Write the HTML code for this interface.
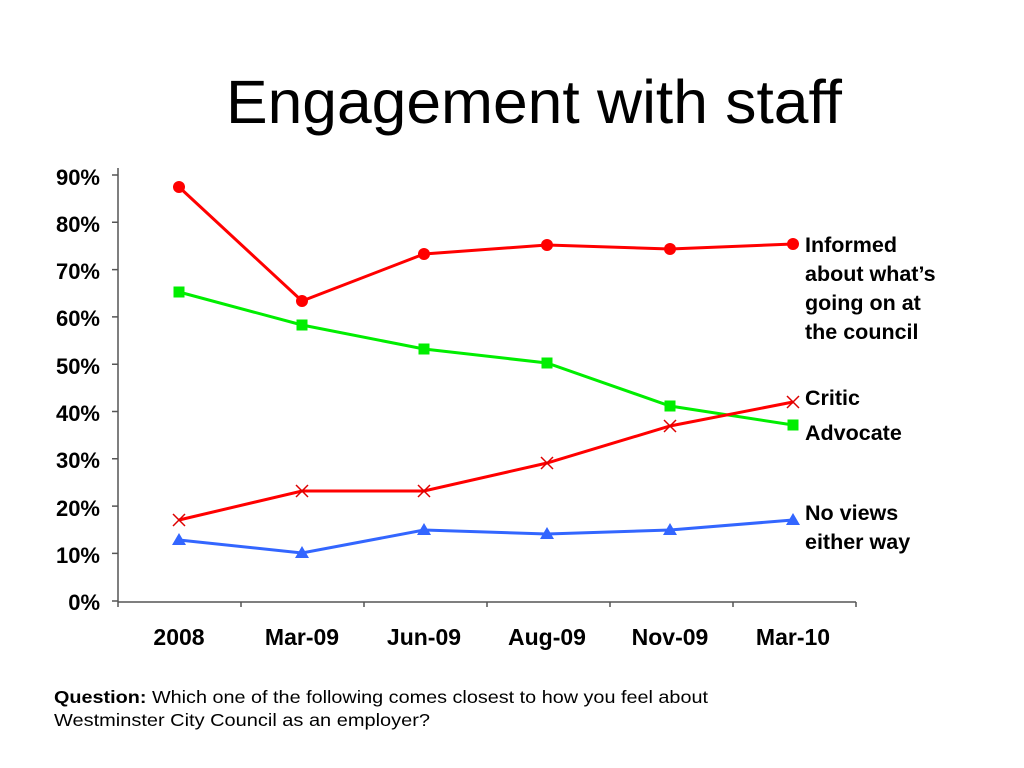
<!DOCTYPE html>
<html><head><style>
body{margin:0;background:#fff;}
svg{display:block;font-family:"Liberation Sans",Arial,sans-serif;}
</style></head><body>
<svg width="1024" height="768" viewBox="0 0 1024 768">
<text x="226" y="123" font-size="61" textLength="616" lengthAdjust="spacingAndGlyphs" fill="#000">Engagement with staff</text>
<g stroke="#555" stroke-width="1.5" fill="none">
<line x1="118" y1="168" x2="118" y2="602"/>
<line x1="118" y1="602" x2="856" y2="602"/>
<path d="M112 175H118M112 222.3H118M112 269.6H118M112 316.9H118M112 364.2H118M112 411.5H118M112 458.8H118M112 506.1H118M112 553.4H118M112 601H118"/>
<path d="M118 602V607M241 602V607M364 602V607M487 602V607M610 602V607M733 602V607M856 602V607"/>
</g>
<g font-size="22" font-weight="bold" text-anchor="end" fill="#000">
<text x="100" y="185">90%</text><text x="100" y="232">80%</text><text x="100" y="279">70%</text>
<text x="100" y="326">60%</text><text x="100" y="374">50%</text><text x="100" y="421">40%</text>
<text x="100" y="468">30%</text><text x="100" y="516">20%</text><text x="100" y="563">10%</text>
<text x="100" y="610">0%</text>
</g>
<g font-size="23" font-weight="bold" text-anchor="middle" fill="#000">
<text x="179" y="645">2008</text><text x="302" y="645">Mar-09</text><text x="424" y="645">Jun-09</text>
<text x="547" y="645">Aug-09</text><text x="670" y="645">Nov-09</text><text x="793" y="645">Mar-10</text>
</g>
<polyline points="179,187 302,301 424,254 547,245 670,249 793,244" fill="none" stroke="#f00" stroke-width="3"/>
<g fill="#f00"><circle cx="179" cy="187" r="6"/><circle cx="302" cy="301" r="6"/><circle cx="424" cy="254" r="6"/><circle cx="547" cy="245" r="6"/><circle cx="670" cy="249" r="6"/><circle cx="793" cy="244" r="6"/></g>
<polyline points="179,292 302,325 424,349 547,363 670,406 793,425" fill="none" stroke="#0e0" stroke-width="3"/>
<g fill="#0e0"><rect x="173.5" y="286.5" width="11" height="11"/><rect x="296.5" y="319.5" width="11" height="11"/><rect x="418.5" y="343.5" width="11" height="11"/><rect x="541.5" y="357.5" width="11" height="11"/><rect x="664.5" y="400.5" width="11" height="11"/><rect x="787.5" y="419.5" width="11" height="11"/></g>
<polyline points="179,520 302,491 424,491 547,463 670,426 793,402" fill="none" stroke="#f00" stroke-width="3"/>
<g stroke="#d00" stroke-width="1.5"><path d="M173 514l12 12M185 514l-12 12M296 485l12 12M308 485l-12 12M418 485l12 12M430 485l-12 12M541 457l12 12M553 457l-12 12M664 420l12 12M676 420l-12 12M787 396l12 12M799 396l-12 12"/></g>
<polyline points="179,540 302,553 424,530 547,534 670,530 793,520" fill="none" stroke="#36f" stroke-width="3"/>
<g fill="#36f"><path d="M179 533l7 12h-14zM302 546l7 12h-14zM424 523l7 12h-14zM547 527l7 12h-14zM670 523l7 12h-14zM793 513l7 12h-14z"/></g>
<g font-size="21.5" font-weight="bold" fill="#000">
<text x="805" y="252">Informed</text><text x="805" y="281">about what’s</text><text x="805" y="310">going on at</text><text x="805" y="339">the council</text>
<text x="805" y="405">Critic</text><text x="805" y="440">Advocate</text>
<text x="805" y="520">No views</text><text x="805" y="549">either way</text>
</g>
<text x="54" y="703" font-size="17.5" textLength="654" lengthAdjust="spacingAndGlyphs" fill="#000"><tspan font-weight="bold">Question:</tspan> Which one of the following comes closest to how you feel about</text>
<text x="54" y="726" font-size="17.5" textLength="376" lengthAdjust="spacingAndGlyphs" fill="#000">Westminster City Council as an employer?</text>
</svg>
</body></html>
